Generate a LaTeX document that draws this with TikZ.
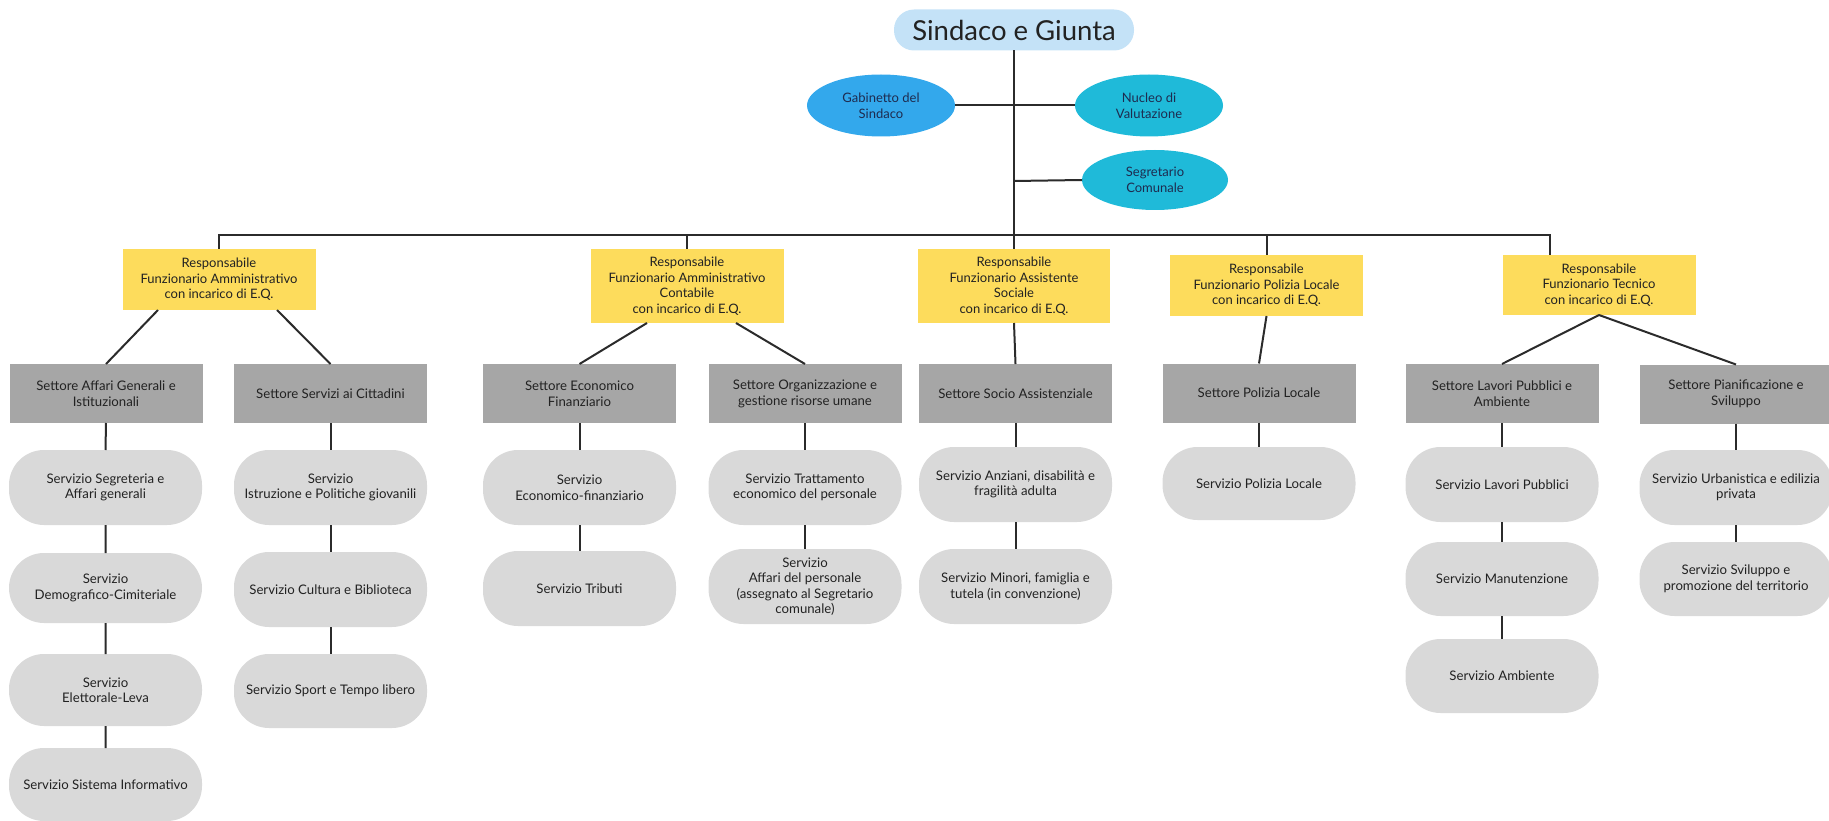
\documentclass[tikz,border=0pt]{standalone}
\usepackage{fontspec}
\setmainfont{Lato}
\usetikzlibrary{shapes.geometric}
\definecolor{topblue}{HTML}{C4E2F7}
\definecolor{gabblue}{HTML}{33A8EC}
\definecolor{cyanb}{HTML}{1FBAD9}
\definecolor{respy}{HTML}{FDDC5C}
\definecolor{settg}{HTML}{A6A6A6}
\definecolor{servg}{HTML}{D9D9D9}
\definecolor{linec}{HTML}{2B2B2B}
\definecolor{txt}{HTML}{222222}
\definecolor{elltxt}{HTML}{1E2B4F}
\tikzset{
  every node/.style={inner sep=0pt, outer sep=0pt, text=txt, align=center},
  conn/.style={draw=linec, line width=2pt},
  topbox/.style={fill=topblue, rounded corners=20pt, minimum width=240pt, minimum height=41pt, font=\fontsize{27.5}{30}\selectfont},
  ellb/.style={ellipse, minimum width=148pt, minimum height=62pt, font=\fontsize{13}{16}\selectfont, text=elltxt},
  resp/.style={fill=respy, minimum width=193pt, font=\fontsize{13}{15.5}\selectfont},
  sett/.style={fill=settg, minimum width=193pt, minimum height=59pt, font=\fontsize{13.2}{16}\selectfont},
  serv/.style={fill=servg, minimum width=193pt, minimum height=75pt, rounded corners=35pt, font=\fontsize{13.2}{15.5}\selectfont},
}
\begin{document}
\begin{tikzpicture}[x=1pt, y=-1pt]
\useasboundingbox (0,0) rectangle (1829,821);
% top level
\node[topbox] (top) at (1014,30) {Sindaco e Giunta};
\node[ellb, fill=gabblue] (gab) at (881,105.5) {Gabinetto del\\Sindaco};
\node[ellb, fill=cyanb] (nuc) at (1149,105.5) {Nucleo di\\Valutazione};
\node[ellb, fill=cyanb, minimum width=146pt, minimum height=60pt] (seg) at (1155,180) {Segretario\\Comunale};
% responsabili
\node[resp, minimum height=61pt] (r1) at (219,279.5) {Responsabile\\Funzionario Amministrativo\\con incarico di E.Q.};
\node[resp, minimum height=74pt] (r2) at (687,286) {Responsabile\\Funzionario Amministrativo\\Contabile\\con incarico di E.Q.};
\node[resp, minimum height=74pt, minimum width=192pt] (r3) at (1014,286) {Responsabile\\Funzionario Assistente\\Sociale\\con incarico di E.Q.};
\node[resp, minimum height=61pt] (r4) at (1266.5,285.5) {Responsabile\\Funzionario Polizia Locale\\con incarico di E.Q.};
\node[resp, minimum height=60pt] (r5) at (1599,285) {Responsabile\\Funzionario Tecnico\\con incarico di E.Q.};
% settori
\node[sett] (s1) at (106,393.5) {Settore Affari Generali e\\Istituzionali};
\node[sett] (s2) at (330.5,393.5) {Settore Servizi ai Cittadini};
\node[sett] (s3) at (579.5,393.5) {Settore Economico\\Finanziario};
\node[sett] (s4) at (805,393.5) {Settore Organizzazione e\\gestione risorse umane};
\node[sett] (s5) at (1015.5,393.5) {Settore Socio Assistenziale};
\node[sett] (s6) at (1259,393) {Settore Polizia Locale};
\node[sett] (s7) at (1502,393.5) {Settore Lavori Pubblici e\\Ambiente};
\node[sett] (s8) at (1736,394) {Settore Pianificazione e\\Sviluppo};
% servizi
\node[serv] (a1) at (105.5,487.5) {Servizio Segreteria e\\Affari generali};
\node[serv, minimum height=70pt] (a2) at (105.5,588) {Servizio\\Demografico-Cimiteriale};
\node[serv, minimum height=72pt] (a3) at (105.5,690) {Servizio\\Elettorale-Leva};
\node[serv, minimum height=73pt] (a4) at (105.5,784.5) {Servizio Sistema Informativo};
\node[serv] (b1) at (330.5,487.5) {Servizio\\Istruzione e Politiche giovanili};
\node[serv] (b2) at (330.5,589.5) {Servizio Cultura e Biblioteca};
\node[serv, minimum height=74pt] (b3) at (330.5,691) {Servizio Sport e Tempo libero};
\node[serv] (c1) at (579.5,487.5) {Servizio\\Economico-finanziario};
\node[serv] (c2) at (579.5,588.5) {Servizio Tributi};
\node[serv] (d1) at (805,487.5) {Servizio Trattamento\\economico del personale};
\node[serv] (d2) at (805,586.5) {Servizio\\Affari del personale\\(assegnato al Segretario\\comunale)};
\node[serv] (e1) at (1015.5,484.5) {Servizio Anziani, disabilità e\\fragilità adulta};
\node[serv] (e2) at (1015.5,586.5) {Servizio Minori, famiglia e\\tutela (in convenzione)};
\node[serv, minimum height=73pt] (f1) at (1259,483.5) {Servizio Polizia Locale};
\node[serv] (g1) at (1502,484.5) {Servizio Lavori Pubblici};
\node[serv, minimum height=74pt] (g2) at (1502,579) {Servizio Manutenzione};
\node[serv, minimum height=74pt] (g3) at (1502,676) {Servizio Ambiente};
\node[serv] (h1) at (1736,487.5) {Servizio Urbanistica e edilizia\\privata};
\node[serv, minimum height=74pt] (h2) at (1736,579) {Servizio Sviluppo e\\promozione del territorio};
% connectors top
\coordinate (bl) at (219,235);
\coordinate (br) at (1549.5,235);
\coordinate (tseg) at (1014,181);
\draw[conn] (top.south) -- (r3.north);
\draw[conn] (gab.east) -- (nuc.west);
\draw[conn] (tseg) -- (seg.west);
\draw[conn] (r1.north) -- (bl) -- (br) -- (br |- r5.north);
\draw[conn] (r2.north) -- (r2.north |- bl);
\draw[conn] (r4.north) -- (r4.north |- bl);
% responsabili to settori
\draw[conn] ([xshift=-61pt]r1.south) -- (s1.north);
\draw[conn] ([xshift=58pt]r1.south) -- (s2.north);
\draw[conn] ([xshift=-40pt]r2.south) -- (s3.north);
\draw[conn] ([xshift=49pt]r2.south) -- (s4.north);
\draw[conn] (r3.south) -- (s5.north);
\draw[conn] (r4.south) -- (s6.north);
\draw[conn] (r5.south) -- (s7.north);
\draw[conn] (r5.south) -- (s8.north);
% settori to servizi
\draw[conn] (s1.south) -- (a1.north) (a1.south) -- (a2.north) (a2.south) -- (a3.north) (a3.south) -- (a4.north);
\draw[conn] (s2.south) -- (b1.north) (b1.south) -- (b2.north) (b2.south) -- (b3.north);
\draw[conn] (s3.south) -- (c1.north) (c1.south) -- (c2.north);
\draw[conn] (s4.south) -- (d1.north) (d1.south) -- (d2.north);
\draw[conn] (s5.south) -- (e1.north) (e1.south) -- (e2.north);
\draw[conn] (s6.south) -- (f1.north);
\draw[conn] (s7.south) -- (g1.north) (g1.south) -- (g2.north) (g2.south) -- (g3.north);
\draw[conn] (s8.south) -- (h1.north) (h1.south) -- (h2.north);
\end{tikzpicture}
\end{document}
